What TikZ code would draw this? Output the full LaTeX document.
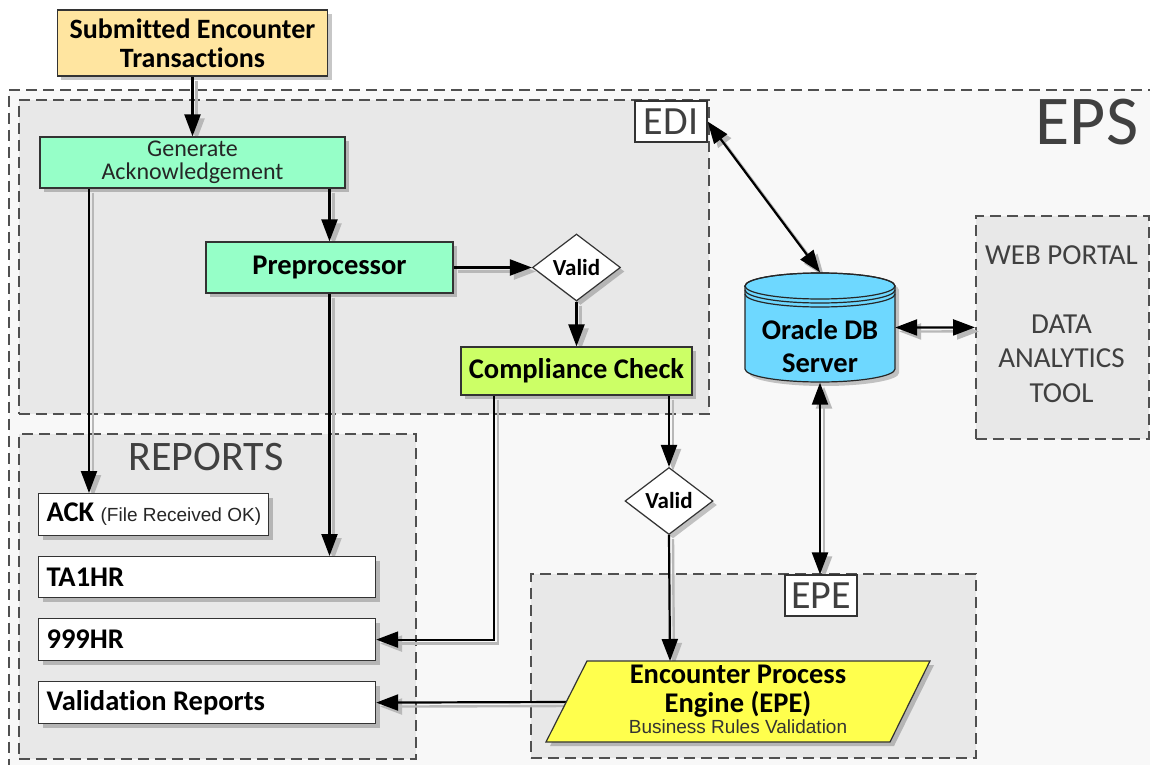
\documentclass[tikz,border=0pt]{standalone}
\usepackage{fontspec}
\setmainfont{Carlito}[Ligatures=NoCommon]
\newfontfamily\arialf{Liberation Sans}
\usetikzlibrary{arrows.meta,shapes.geometric,shadows}
\definecolor{subc}{HTML}{FFE5A0}
\definecolor{genc}{HTML}{96FFC8}
\definecolor{compc}{HTML}{CCFF66}
\definecolor{dbc}{HTML}{6ED8FF}
\definecolor{epec}{HTML}{FFFF4D}
\definecolor{grpc}{HTML}{E8E8E8}
\definecolor{epsc}{HTML}{F8F8F8}
\definecolor{ttl}{HTML}{404040}
\definecolor{dashc}{HTML}{505050}
\definecolor{shc}{HTML}{B8B8B8}
\newcommand\leftbox[2]{\makebox[#1][l]{#2}}
\pgfdeclarelayer{bg}
\pgfdeclarelayer{conn}
\pgfsetlayers{bg,conn,main}
\begin{document}
\begin{tikzpicture}[x=1bp,y=-1bp,
  grp/.style={draw=dashc, dash pattern=on 11bp off 6bp, line width=1.8bp, fill=grpc, inner sep=0, anchor=north west},
  shad/.style={drop shadow={shadow xshift=4bp,shadow yshift=-4bp,fill=black,opacity=0.22}},
  box/.style={draw=black!80, line width=1.2bp, shad, inner sep=0, text=black},
  boldtxt/.style={font=\fontsize{28.5bp}{30bp}\selectfont\bfseries},
  greenbox/.style={box, fill=genc},
  valid/.style={box, diamond, fill=white, minimum width=88bp, minimum height=67bp, font=\fontsize{23bp}{24bp}\selectfont\bfseries},
  rep/.style={box, fill=white, anchor=north west, inner xsep=8bp, minimum height=42bp, font=\fontsize{28.5bp}{30bp}\selectfont\bfseries},
  lab/.style={draw=black!80, line width=1.2bp, fill=white, minimum width=72bp, minimum height=41bp, inner sep=0, text=ttl, font=\fontsize{40bp}{40bp}\selectfont},
  ttltxt/.style={text=ttl, inner sep=0},
  arrbase/.style={line width=2.2bp, draw=black, preaction={draw=shc, line width=2.4bp, transform canvas={shift={(4bp,-4bp)}}}},
  arr/.style={arrbase, -{Triangle[length=22bp,width=16bp]}},
  arrb/.style={arrbase, {Triangle[length=22bp,width=16bp]}-{Triangle[length=22bp,width=16bp]}}
]
\useasboundingbox (0,0) rectangle (1150,765);

\begin{pgfonlayer}{bg}
  \fill[white] (0,0) rectangle (1150,765);
  \node[grp, fill=epsc, minimum width=1160bp, minimum height=700bp] (eps) at (8,89) {};
  \node[grp, minimum width=690bp, minimum height=314bp] (edi) at (18,99) {};
  \node[grp, minimum width=397bp, minimum height=325bp] (reports) at (18,433) {};
  \node[grp, minimum width=445bp, minimum height=184bp] (epegrp) at (530,573) {};
  \node[grp, minimum width=173bp, minimum height=223bp] (web) at (975,215) {};
\end{pgfonlayer}

% titles
\node[ttltxt, font=\fontsize{70bp}{70bp}\selectfont] (epst) at (1087,122.5) {EPS};
\node[lab] (edilab) at (671,121.5) {EDI};
\node[lab] (epelab) at (821,595.5) {EPE};
\node[ttltxt, font=\fontsize{42bp}{42bp}\selectfont] (rept) at (206,457.5) {REPORTS};
\node[ttltxt, align=center, font=\fontsize{29bp}{34.5bp}\selectfont] (webt) at (1061.5,324) {WEB PORTAL\\[0pt]\\DATA\\ANALYTICS\\TOOL};

% boxes
\node[box, fill=subc, minimum width=270bp, minimum height=66bp, align=center, font=\fontsize{28bp}{29bp}\selectfont\bfseries] (sub) at (192.5,43) {Submitted Encounter\\Transactions};
\node[greenbox, minimum width=305bp, minimum height=51bp, align=center, text=black!85, font=\fontsize{24bp}{23bp}\selectfont] (gen) at (192.5,162.5) {Generate\\Acknowledgement};
\node[greenbox, boldtxt, minimum width=247bp, minimum height=51bp] (prep) at (329.5,267.5) {Preprocessor};
\node[valid] (v1) at (576.5,267.5) {Valid};
\node[box, boldtxt, fill=compc, minimum width=231bp, minimum height=48bp] (comp) at (576.5,371) {Compliance Check};
\node[valid] (v2) at (669,501) {Valid};

\node[rep] (ack) at (38,493) {\leftbox{214bp}{ACK {\arialf\mdseries\fontsize{19bp}{20bp}\selectfont\color{black!85}(File Received OK)}}};
\node[rep, minimum height=41bp] (ta1) at (38,556) {\leftbox{321bp}{TA1HR}};
\node[rep] (r999) at (38,618) {\leftbox{321bp}{999HR}};
\node[rep] (val) at (38,681) {\leftbox{321bp}{Validation Reports}};

% Oracle DB cylinder
\node[minimum width=150bp, minimum height=110bp, inner sep=0] (db) at (820,327.5) {};
\path[fill=dbc, shad] (745,286) -- (745,369) arc[start angle=180,end angle=360,x radius=75bp,y radius=13bp] -- (895,286) arc[start angle=0,end angle=180,x radius=75bp,y radius=13bp] -- cycle;
\draw[line width=1.2bp, draw=black!85] (745,286) -- (745,369) arc[start angle=180,end angle=360,x radius=75bp,y radius=13bp] -- (895,286) arc[start angle=0,end angle=180,x radius=75bp,y radius=13bp] -- cycle;
\draw[line width=1.2bp, draw=black!85] (820,286) ellipse[x radius=75bp,y radius=13bp];
\draw[line width=1.2bp, draw=black!85] (745,290) arc[start angle=180,end angle=360,x radius=75bp,y radius=13bp];
\draw[line width=1.2bp, draw=black!85] (745,294) arc[start angle=180,end angle=360,x radius=75bp,y radius=13bp];
\node[inner sep=0, align=center, font=\fontsize{28.5bp}{33bp}\selectfont\bfseries] (dbt) at (820,346) {Oracle DB\\Server};

% EPE parallelogram
\path[fill=epec, draw=black!80, line width=1.2bp, shad] (587,661) -- (930,661) -- (890,742) -- (546,742) -- cycle;
\coordinate (epetop) at (670,661);
\coordinate (epeL) at (566,702);
\node[inner sep=0, align=center, font=\fontsize{28.5bp}{29bp}\selectfont\bfseries] (epe) at (738,691.5) {Encounter Process\\Engine (EPE)};
\node[inner sep=0, anchor=base, text=black!80, font=\arialf\fontsize{19bp}{20bp}\selectfont] (epesub) at (738,733) {Business Rules Validation};

% connectors
\coordinate (x89) at (89,0);
\coordinate (x494) at (494,0);
\begin{pgfonlayer}{conn}
  \draw[arr] (sub.south) -- (gen.north);
  \draw[arr] (gen.south -| x89) -- (ack.north -| x89);
  \draw[arr] (gen.south -| prep.north) -- (prep.north);
  \draw[arr] (prep.south) -- (prep.south |- ta1.north);
  \draw[arr] (prep.east) -- (v1.west);
  \draw[arr] (v1.south) -- (comp.north);
  \draw[arr] (comp.south -| x494) |- (r999.east);
  \draw[arr] (comp.south -| v2.north) -- (v2.north);
  \draw[arr] (v2.south) -- (epetop);
  \draw[arr] (epeL) -- (val.east);
  \draw[arrb] (edilab.east) -- (db.north);
  \draw[arrb] (db.east) -- (web.west);
  \draw[arrb] (db.south) -- (db.south |- epelab.north);
\end{pgfonlayer}
\end{tikzpicture}
\end{document}
